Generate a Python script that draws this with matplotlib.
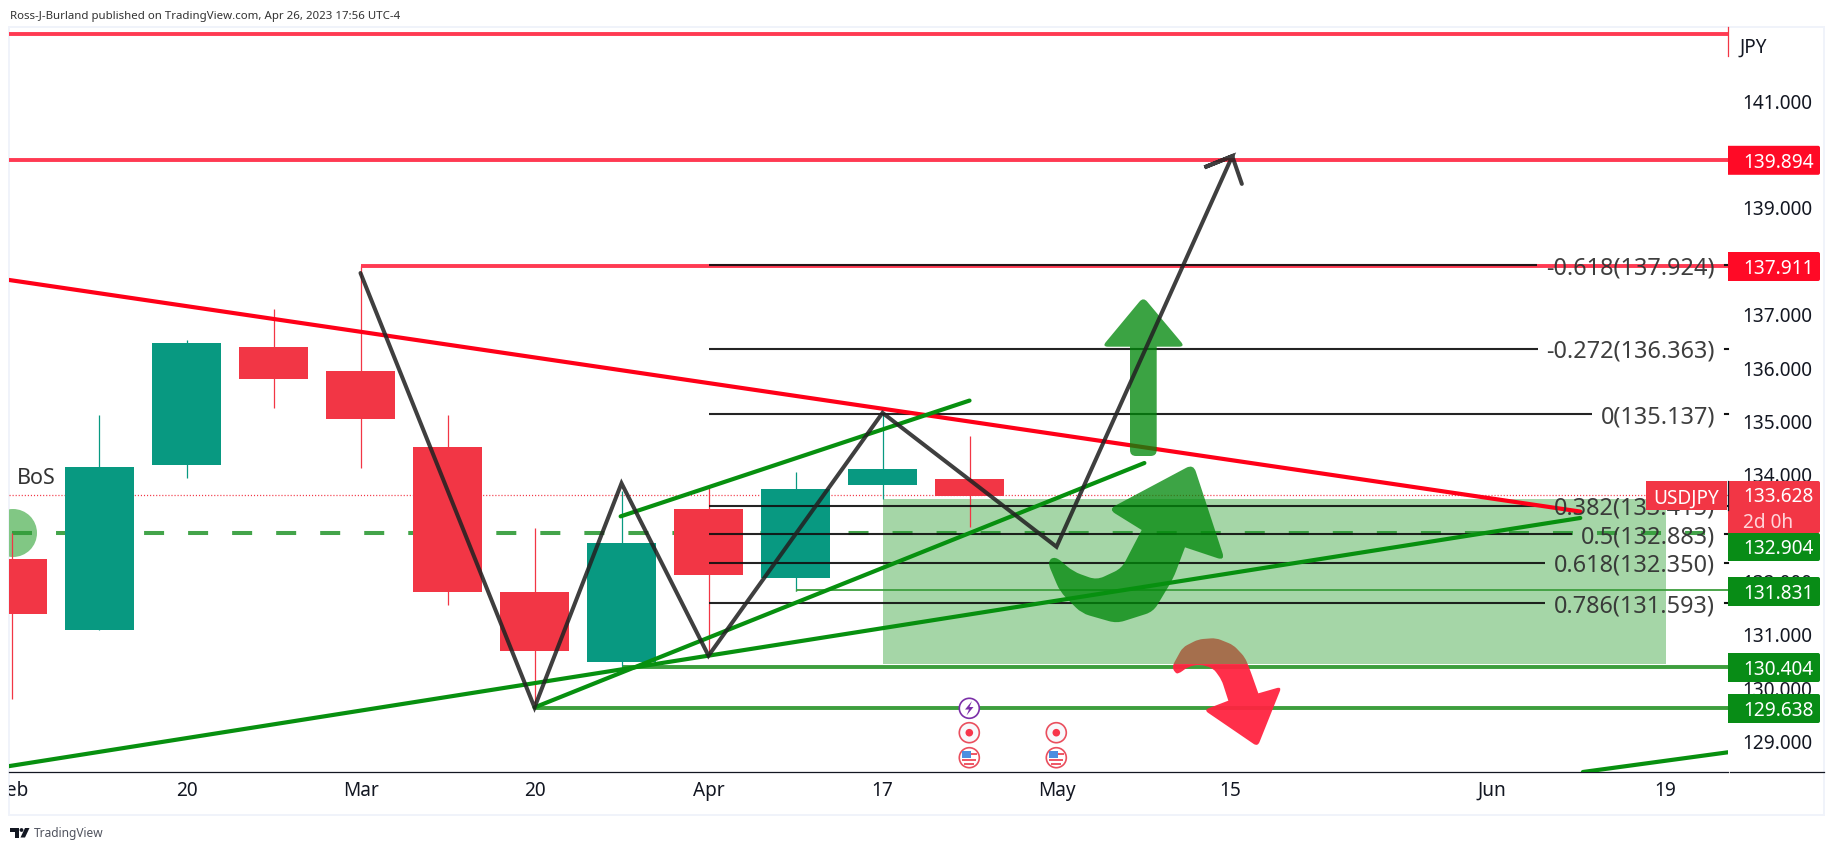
import matplotlib
matplotlib.use("Agg")
import matplotlib.pyplot as plt
from matplotlib.patches import Circle, PathPatch, Polygon, Rectangle
from matplotlib.path import Path
from matplotlib.transforms import Affine2D, Bbox, blended_transform_factory

plt.rcParams['font.family'] = ['Noto Sans', 'DejaVu Sans']
plt.rcParams['lines.scale_dashes'] = False

# weekly candles
opens = [132.42, 131.10, 134.19, 136.40, 135.95, 134.52, 131.81, 130.50, 133.36, 132.07, 133.80, 133.92]
closes = [131.40, 134.14, 136.47, 135.80, 135.05, 131.81, 130.69, 132.72, 132.13, 133.73, 134.11, 133.61]
highs = [132.91, 135.12, 136.52, 137.10, 137.91, 135.12, 133.00, 133.70, 133.75, 134.05, 135.15, 134.73]
lows = [129.79, 131.10, 133.93, 135.26, 134.12, 131.55, 129.64, 130.41, 130.63, 131.82, 133.55, 133.03]

time_ticks = [0, 2, 4, 6, 8, 10, 12, 14, 17, 19]
time_labels = ['Feb', '20', 'Mar', '20', 'Apr', '17', 'May', '15', 'Jun', '19']
price_ticks = list(range(129, 142))

fib_levels = ['-0.618', '-0.272', '0', '0.382', '0.5', '0.618', '0.786']
fib_prices = [137.924, 136.363, 135.137, 133.415, 132.883, 132.350, 131.593]

last_price = 133.628
top_line = 142.26
res_high = 139.894
res_mid = 137.911
dash_level = 132.904
sup_thin = 131.831
sup_mid = 130.404
sup_low = 129.638

red_trend = ([-0.04, 18.02], [137.65, 133.31])
green_long = ([-0.04, 18.02], [128.54, 133.19])
green_low = ([18.05, 19.72], [128.43, 128.80])
green_mid = ([6, 13.01], [129.64, 134.22])
green_top = ([6.99, 11.0], [133.22, 135.39])

zigzag_x = [4, 6, 7, 8, 10, 12, 14.02, 13.70, 14.02, 14.13]
zigzag_y = [137.78, 129.64, 133.84, 130.61, 135.16, 132.65, 139.97, 139.76, 139.97, 139.45]

zone_x = [10, 19]
zone_y = [130.46, 133.55]

RED = '#F23645'
TEAL = '#089981'
HRED = '#ff3a52'
HGREEN = '#3d9e3d'
TREND_GREEN = '#07900f'
TXT = '#131722'

fig = plt.figure(figsize=(18.34, 8.5), dpi=100)
ax = fig.add_axes([9 / 1834, (850 - 772) / 850, (1728 - 9) / 1834, (772 - 27) / 850])
ax.set_xlim(-0.0402, 19.718)
ax.set_ylim(128.43, 142.39)

# pixel coordinates, origin top left, for the stickers and the chrome
px = Affine2D().scale(1, -1).translate(0, 850)
px_y = blended_transform_factory(px, ax.transData)


def to_idx(x):
    return ax.transData.inverted().transform((x, 0))[0]


def rounded(points, r=6, sharp=()):
    n = len(points)
    verts, codes = [], []
    for i in range(n):
        x0, y0 = points[i - 1]
        x1, y1 = points[i]
        x2, y2 = points[(i + 1) % n]
        d1 = ((x1 - x0) ** 2 + (y1 - y0) ** 2) ** 0.5
        d2 = ((x2 - x1) ** 2 + (y2 - y1) ** 2) ** 0.5
        ra = 0.01 if i in sharp else min(r, d1 / 2)
        rb = 0.01 if i in sharp else min(r, d2 / 2)
        a = (x1 + (x0 - x1) * ra / d1, y1 + (y0 - y1) * ra / d1)
        b = (x1 + (x2 - x1) * rb / d2, y1 + (y2 - y1) * rb / d2)
        verts += [a, (x1, y1), b]
        codes += [Path.MOVETO if i == 0 else Path.LINETO, Path.CURVE3, Path.CURVE3]
    verts.append(verts[0])
    codes.append(Path.CLOSEPOLY)
    return Path(verts, codes)


def sticker(points, color, alpha, z, r=6, sharp=()):
    ax.add_patch(PathPatch(rounded(points, r, sharp), transform=px, facecolor=color, edgecolor='none',
                           alpha=alpha, zorder=z, clip_on=False))


# levels and zone
ax.plot([-0.04, 19.718], [top_line, top_line], color=HRED, lw=2.8, zorder=3, solid_capstyle='butt')
ax.plot([-0.04, 19.718], [res_high, res_high], color=HRED, lw=2.8, zorder=3, solid_capstyle='butt')
ax.plot([4, 19.718], [res_mid, res_mid], color=HRED, lw=2.8, zorder=3, solid_capstyle='butt')
ax.plot([7, 19.718], [sup_mid, sup_mid], color=HGREEN, lw=2.8, zorder=1.1, solid_capstyle='butt')
ax.plot([6, 19.718], [sup_low, sup_low], color=HGREEN, lw=2.8, zorder=1.1, solid_capstyle='butt')
ax.plot([9, 19.718], [sup_thin, sup_thin], color=HGREEN, lw=1.3, zorder=3, solid_capstyle='butt')
ax.vlines(9, lows[9], sup_thin, color=HGREEN, lw=1.0, zorder=3)
ax.add_patch(Rectangle((zone_x[0], zone_y[0]), zone_x[1] - zone_x[0], zone_y[1] - zone_y[0],
                       facecolor='#4CAF50', alpha=0.5, edgecolor='none', zorder=1.5))
ax.plot([0, 19.718], [dash_level, dash_level], color='#2e9a36', lw=2.9, zorder=1.8,
        linestyle=(0, (14.4, 17.3)), alpha=0.9)
ax.plot([-0.04, 19.718], [last_price, last_price], color=RED, lw=0.9, zorder=1.2, linestyle=(0, (0.8, 1.4)))
ax.add_patch(Circle((13, 533), 24, transform=px, facecolor='#81c784', edgecolor='none', zorder=1.3,
                    clip_path=Rectangle((9, 27), 60, 745, transform=px)))

# candles
idx = list(range(len(opens)))
colors = [TEAL if c >= o else RED for o, c in zip(opens, closes)]
ax.vlines(idx, lows, highs, colors=colors, lw=0.9, zorder=2)
ax.bar(idx, [abs(c - o) for o, c in zip(opens, closes)], bottom=[min(o, c) for o, c in zip(opens, closes)],
       width=0.79, color=colors, linewidth=0, zorder=2.1)

# red arrow sits under the zone, the green ones above it
red_arrow = [(45, 128), (36, 110), (68, 52), (115, 28), (168, 24), (220, 45), (255, 82), (272, 125), (295, 190),
             (365, 170), (293, 350), (132, 240), (205, 212), (185, 150), (160, 115), (120, 103), (85, 110), (55, 132)]
sticker([(1160 + x / 3, 630 + y / 3) for x, y in red_arrow], '#ff2440', 0.95, 1.3, r=5, sharp=(8, 12))

up_arrow = [(1130, 456), (1130, 346.7), (1102, 346.7), (1143.3, 297), (1185, 346.7), (1156.7, 346.7), (1156.7, 456)]
sticker(up_arrow, '#00880a', 0.77, 5, r=6, sharp=(1, 5))

curve_arrow = [(45, 318), (100, 365), (170, 390), (245, 355), (305, 240), (205, 178), (460, 42), (555, 332),
               (435, 292), (400, 385), (340, 485), (230, 520), (125, 490), (60, 425), (22, 335)]
sticker([(1040 + x / 3, 450 + y / 3) for x, y in curve_arrow], '#00880a', 0.76, 5, r=8, sharp=(4, 8))

# trend lines
for line in (green_long, green_mid, green_top, green_low):
    ax.plot(line[0], line[1], color=TREND_GREEN, lw=3.0, zorder=5, solid_capstyle='round')
ax.plot(red_trend[0], red_trend[1], color='#ff0018', lw=3.0, zorder=4.8, solid_capstyle='round')
ax.plot(zigzag_x, zigzag_y, color='#222222', lw=2.9, alpha=0.87, zorder=6, solid_joinstyle='miter',
        solid_capstyle='round')

# fib levels: right aligned label, line stops just before it
fig.canvas.draw()
renderer = fig.canvas.get_renderer()
for lev, p in zip(fib_levels, fib_prices):
    t = ax.text(1715, p, '%s(%.3f)' % (lev, p), transform=px_y, ha='right', va='center_baseline', fontsize=16.9,
                color='#333333', alpha=0.95, zorder=7, clip_on=False)
    left = t.get_window_extent(renderer).x0
    ax.plot([8, to_idx(left - 9)], [p, p], color='#111111', lw=1.5, alpha=0.92, zorder=3.5,
            solid_capstyle='butt')
    ax.plot([1725, 1728], [p, p], color='#111111', lw=1.5, transform=px_y, zorder=3.5, clip_on=False)

ax.text(16.5, 478, 'BoS', transform=px, fontsize=15.5, color='#333333', va='center', zorder=7)

# axes
for side in ('top', 'left', 'right'):
    ax.spines[side].set_visible(False)
ax.spines['bottom'].set_color(TXT)
ax.spines['bottom'].set_linewidth(0.9)
ax.add_line(plt.Line2D([1730, 1824], [772, 772], transform=px, color=TXT, lw=0.9, clip_on=False))
ax.yaxis.tick_right()
ax.set_yticks(price_ticks)
ax.set_yticklabels(['%.3f' % p for p in price_ticks])
ax.set_xticks(time_ticks)
ax.set_xticklabels(time_labels)
ax.tick_params(axis='y', length=0, pad=10, labelsize=13.7, labelcolor=TXT)
ax.tick_params(axis='x', length=0, pad=6.5, labelsize=13.7, labelcolor=TXT)
for lbl in ax.get_xticklabels():
    lbl.set_clip_on(True)
    lbl.set_clip_box(Bbox([[9, 0], [1834, 850]]))
ax.text(1753, 45, 'JPY', transform=px, ha='center', va='center_baseline', fontsize=13.7, color=TXT, clip_on=False)
ax.add_line(plt.Line2D([1728, 1728], [27, 56], transform=px, color=RED, lw=0.9, clip_on=False))


# price boxes on the axis, some pushed aside by their neighbours
def price_box(y_mid, height, color, lines):
    ax.add_patch(PathPatch(rounded([(1728, y_mid - height / 2), (1820, y_mid - height / 2),
                                    (1820, y_mid + height / 2), (1728, y_mid + height / 2)], 2, sharp=(0, 3)),
                           transform=px, facecolor=color, edgecolor='none', zorder=10, clip_on=False))
    step = height / len(lines)
    for i, s in enumerate(lines):
        ax.text(1743, y_mid - height / 2 + step * (i + 0.5), s, transform=px, va='center_baseline', fontsize=13.7,
                color='white' if i == 0 else '#ffd5da', fontweight='medium', zorder=11, clip_on=False)


price_box(160.3, 29, '#ff0a26', ['139.894'])
price_box(266.5, 29, '#ff0a26', ['137.911'])
price_box(507, 52, RED, ['133.628', '2d 0h'])
price_box(547, 28, '#088c16', ['132.904'])
price_box(591.5, 29, '#088c16', ['131.831'])
price_box(667.5, 29, '#088c16', ['130.404'])
price_box(708.5, 29, '#088c16', ['129.638'])
ax.add_patch(Rectangle((1646, 481), 81, 29, transform=px, facecolor=RED, edgecolor='none', zorder=10, clip_on=False))
ax.text(1686, 496, 'USDJPY', transform=px, ha='center', va='center_baseline', fontsize=13.7, color='white',
        zorder=11, clip_on=False)
ax.add_line(plt.Line2D([1728, 1728], [481, 510], transform=px, color=TXT, lw=0.9, zorder=11, clip_on=False))

# event icons
ax.add_patch(Circle((969.3, 708.3), 10, transform=px, facecolor='white', edgecolor='#7b2fa8', lw=1.2, zorder=8,
                    clip_on=False))
ax.add_patch(Polygon([(972, 701), (965, 709.5), (969, 709.5), (966.5, 715.5), (973.5, 707), (969.5, 707)],
                     transform=px, facecolor='#7b2fa8', edgecolor='none', zorder=9, clip_on=False))
for cx in (969.3, 1056.3):
    ax.add_patch(Circle((cx, 732.7), 10, transform=px, facecolor='#f8f8fb', edgecolor='#ea4f5e', lw=1.2, zorder=8,
                        clip_on=False))
    ax.add_patch(Circle((cx, 732.7), 3.8, transform=px, facecolor='#f7354b', edgecolor='none', zorder=9,
                        clip_on=False))
    ax.add_patch(Circle((cx, 757.7), 10, transform=px, facecolor='white', edgecolor='#ea4f5e', lw=1.2, zorder=8,
                        clip_on=False))
    ax.add_patch(Rectangle((cx - 7, 751), 9, 7, transform=px, facecolor='#4c8fe0', edgecolor='none', zorder=9,
                           clip_on=False))
    ax.add_patch(Rectangle((cx + 2, 753), 6, 1.6, transform=px, facecolor='#ef5a68', edgecolor='none', zorder=9,
                           clip_on=False))
    ax.add_patch(Rectangle((cx - 7, 759), 14, 1.6, transform=px, facecolor='#ef5a68', edgecolor='none', zorder=9,
                           clip_on=False))
    ax.add_patch(Rectangle((cx - 5, 763), 10, 1.6, transform=px, facecolor='#ef5a68', edgecolor='none', zorder=9,
                           clip_on=False))

# frame, header, logo
ax.add_patch(Rectangle((9, 26.5), 1815, 788.5, transform=px, facecolor='none', edgecolor='#f0f3fa', lw=1.4,
                       zorder=0.5, clip_on=False))
ax.text(10, 15, 'Ross-J-Burland published on TradingView.com, Apr 26, 2023 17:56 UTC-4', transform=px,
        va='center_baseline', fontsize=8.25, color='#333333', clip_on=False)
ax.add_patch(Polygon([(10, 828), (19, 828), (19, 837.5), (14.5, 837.5), (14.5, 832), (10, 832)], transform=px,
                     facecolor='#131722', edgecolor='none', clip_on=False))
ax.add_patch(Circle((21.5, 830), 1.9, transform=px, facecolor='#131722', edgecolor='none', clip_on=False))
ax.add_patch(Polygon([(25, 828), (29.5, 828), (25, 837.5), (20.5, 837.5)], transform=px, facecolor='#131722',
                     edgecolor='none', clip_on=False))
ax.text(33.5, 832.5, 'TradingView', transform=px, va='center_baseline', fontsize=8.6, color='#50535e', clip_on=False)

fig.savefig('out.png', dpi=100, facecolor='white')
